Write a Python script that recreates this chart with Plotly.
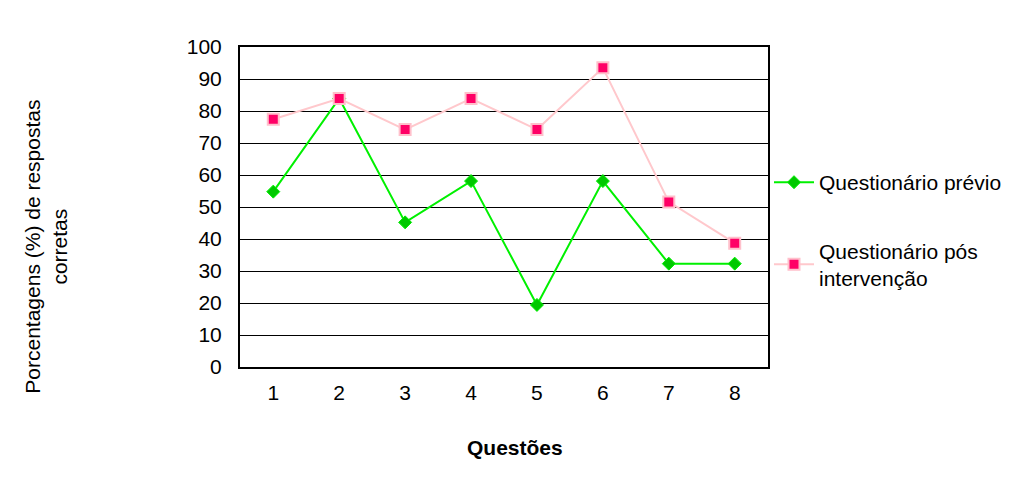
import plotly.graph_objects as go

questoes = ["1", "2", "3", "4", "5", "6", "7", "8"]
previo = [54.8, 83.9, 45.2, 58.1, 19.4, 58.1, 32.3, 32.3]
pos_intervencao = [77.4, 83.9, 74.2, 83.9, 74.2, 93.5, 51.6, 38.7]
y_ticks = list(range(0, 101, 10))

font_family = "Liberation Sans, Arial, sans-serif"

fig = go.Figure()
fig.add_trace(go.Scatter(
    x=questoes, y=previo, name="Questionário prévio",
    mode="lines+markers", legendgroup="a",
    line=dict(color="#00F000", width=2),
    marker=dict(symbol="diamond", size=10, color="#00C800",
                line=dict(color="#00F000", width=1)),
))
fig.add_trace(go.Scatter(
    x=questoes, y=pos_intervencao, name="Questionário pós<br>intervenção",
    mode="lines+markers", legendgroup="b",
    line=dict(color="#FFC8CC", width=2),
    marker=dict(symbol="square", size=11, color="#FF0066",
                line=dict(color="#FFC0CB", width=2)),
))

fig.update_xaxes(
    type="category", showgrid=False, ticks="", ticklabelstandoff=6,
    showline=True, linecolor="black", linewidth=2, mirror=True,
    tickfont=dict(size=21, color="black"),
)
fig.update_yaxes(
    range=[0, 100], tickvals=y_ticks, ticks="", ticklabelstandoff=12,
    showgrid=True, gridcolor="black", gridwidth=1,
    showline=True, linecolor="black", linewidth=2, mirror=True,
    tickfont=dict(size=21, color="black"), zeroline=False,
)

fig.add_annotation(
    text="Porcentagens (%) de respostas<br>corretas",
    xref="paper", yref="paper", x=-0.368, y=0.375, textangle=-90,
    xanchor="center", yanchor="middle",
    showarrow=False, font=dict(size=21, color="black"),
)
fig.add_annotation(
    text="<b>Questões</b>",
    xref="paper", yref="paper", x=0.52, y=-0.253,
    xanchor="center", yanchor="middle",
    showarrow=False, font=dict(size=21, color="black"),
)

# the page has an 8px body margin, so the margins are shifted by it
fig.update_layout(
    width=1010, height=480,
    paper_bgcolor="white", plot_bgcolor="white",
    font=dict(family=font_family, size=21, color="black"),
    margin=dict(l=232, r=249, t=39, b=121),
    showlegend=True,
    legend=dict(x=1.0, y=0.428, yanchor="middle", xanchor="left",
                traceorder="grouped", tracegroupgap=38,
                font=dict(size=21, color="black"), itemwidth=40,
                bgcolor="rgba(0,0,0,0)"),
)

fig.write_html("out.html")
